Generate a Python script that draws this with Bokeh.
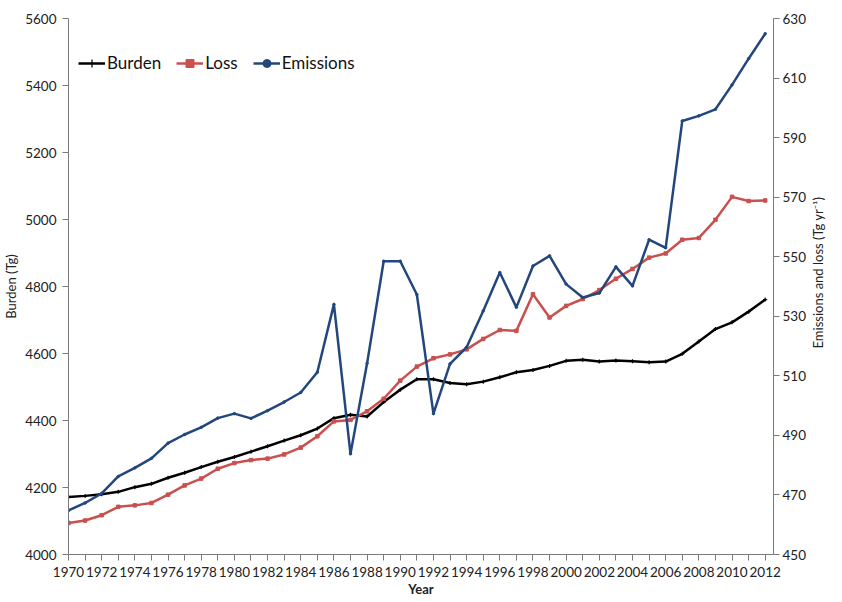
import math
from bokeh.plotting import figure
from bokeh.layouts import row
from bokeh.models import Range1d, LinearAxis, FixedTicker, Legend, LegendItem
from bokeh.core.properties import value
from bokeh.embed import file_html
from bokeh.resources import INLINE

years = list(range(1970, 2013))
burden = [4172, 4175, 4180, 4187, 4201, 4211, 4229, 4244, 4261, 4277,
          4291, 4307, 4323, 4340, 4356, 4376, 4407, 4417, 4412, 4455,
          4492, 4523, 4523, 4512, 4508, 4516, 4529, 4544, 4551, 4563,
          4578, 4581, 4576, 4579, 4577, 4574, 4576, 4599, 4636, 4673,
          4693, 4725, 4761]
loss = [460.6, 461.4, 463.2, 466.0, 466.5, 467.3, 470.1, 473.2, 475.5, 478.8,
        480.7, 481.7, 482.2, 483.6, 485.9, 489.7, 494.7, 495.2, 498.1, 502.3,
        508.4, 513.1, 515.9, 517.2, 518.9, 522.4, 525.4, 525.1, 537.4, 529.6,
        533.5, 535.8, 538.8, 542.6, 545.9, 549.7, 551.1, 555.7, 556.3, 562.4,
        570.1, 568.7, 568.9]
emissions = [464.8, 467.3, 470.5, 476.2, 479.1, 482.3, 487.4, 490.3, 492.7, 495.8,
             497.3, 495.7, 498.3, 501.2, 504.4, 511.2, 534.0, 483.8, 514.2, 548.5,
             548.5, 537.3, 497.3, 514.0, 519.6, 531.8, 544.7, 533.0, 546.9, 550.3,
             540.8, 536.3, 537.8, 546.6, 540.2, 555.7, 553.0, 595.6, 597.3, 599.5,
             607.7, 616.5, 624.9]
left_ticks = list(range(4000, 5601, 200))
right_ticks = list(range(450, 631, 20))
x_label_years = list(range(1970, 2013, 2))
x_minor_years = list(range(1971, 2013, 2))
right_title = "Emissions and loss (Tg yr\u207b\u00b9)"

FONT = "Lato"
BLACK = "#000000"
RED = "#c9504e"
BLUE = "#23477c"

W, H = 808, 599
LW = 18
BL, BR, BT, BB = 65, 34, 18, 43

p = figure(width=W, height=H, output_backend="svg", toolbar_location=None,
           x_range=Range1d(1970, 2012.5), y_range=Range1d(4000, 5600),
           min_border_left=BL, min_border_right=BR, min_border_top=BT,
           min_border_bottom=BB)
p.extra_y_ranges = {"right": Range1d(450, 630)}
p.outline_line_color = None
p.xgrid.visible = False
p.ygrid.visible = False
p.background_fill_color = "white"

rb = p.line(years, burden, line_color=BLACK, line_width=2.5)
mb = p.scatter(years, burden, marker="cross", size=4, line_color=BLACK, line_width=1.2)
rl = p.line(years, loss, line_color=RED, line_width=2.5, y_range_name="right")
ml = p.scatter(years, loss, marker="square", size=3.5, fill_color=RED, line_color=RED, y_range_name="right")
re = p.line(years, emissions, line_color=BLUE, line_width=2.5, y_range_name="right")
me = p.scatter(years, emissions, marker="circle", size=2.5, fill_color=BLUE, line_color=BLUE, y_range_name="right")

def style(ax):
    ax.axis_line_color = "#7a7a7a"
    ax.major_tick_line_color = "#7a7a7a"
    ax.minor_tick_line_color = "#7a7a7a"
    ax.major_tick_in = 0
    ax.major_tick_out = 6
    ax.minor_tick_in = 0
    ax.minor_tick_out = 6
    ax.major_label_text_font = FONT
    ax.major_label_text_font_size = "13.5px"
    ax.major_label_text_color = "#222222"
    ax.axis_label_text_font = FONT
    ax.axis_label_text_font_size = "13px"
    ax.axis_label_text_color = "#222222"
    ax.axis_label_text_font_style = "normal"

xa = p.xaxis[0]
xa.ticker = FixedTicker(ticks=x_label_years, minor_ticks=x_minor_years)
style(xa)
xa.axis_label = "Year"
xa.axis_label_text_font_style = "bold"
xa.axis_label_standoff = 1
xa.major_label_standoff = 6

ya = p.yaxis[0]
ya.ticker = FixedTicker(ticks=left_ticks)
style(ya)
ya.minor_tick_out = 0
ya.axis_label = "Burden (Tg)"
ya.axis_label_standoff = 3
ya.major_label_standoff = 6

ra = LinearAxis(y_range_name="right", ticker=FixedTicker(ticks=right_ticks))
style(ra)
ra.minor_tick_out = 0
ra.major_label_standoff = 3
p.add_layout(ra, "right")

frame_h = H - BT - BB
legend = Legend(items=[LegendItem(label="Burden", renderers=[rb, mb]),
                       LegendItem(label="Loss", renderers=[rl, ml]),
                       LegendItem(label="Emissions", renderers=[re, me])],
                orientation="horizontal", location=(10, frame_h - 57))
legend.label_text_font = FONT
legend.label_text_font_size = "17px"
legend.label_text_color = "#111111"
legend.background_fill_alpha = 0
legend.border_line_color = None
legend.glyph_width = 27
legend.label_standoff = 2
legend.spacing = 15
legend.margin = 0
legend.padding = 0
p.add_layout(legend)

# narrow strip carrying the right-hand axis title (reads bottom-to-top)
q = figure(width=LW, height=H, output_backend="svg", toolbar_location=None,
           x_range=Range1d(-1, 1), y_range=Range1d(0, H),
           min_border_left=0, min_border_right=0, min_border_top=0,
           min_border_bottom=0)
q.axis.visible = False
q.grid.visible = False
q.outline_line_color = None
q.text(x=[0], y=[H - 284], text=[right_title], angle=math.pi / 2,
       text_align="center", text_baseline="middle", text_font=value(FONT),
       text_font_size="13px", text_color="#222222")

layout = row(p, q, spacing=0)
open("out.html", "w").write(file_html(layout, INLINE))
